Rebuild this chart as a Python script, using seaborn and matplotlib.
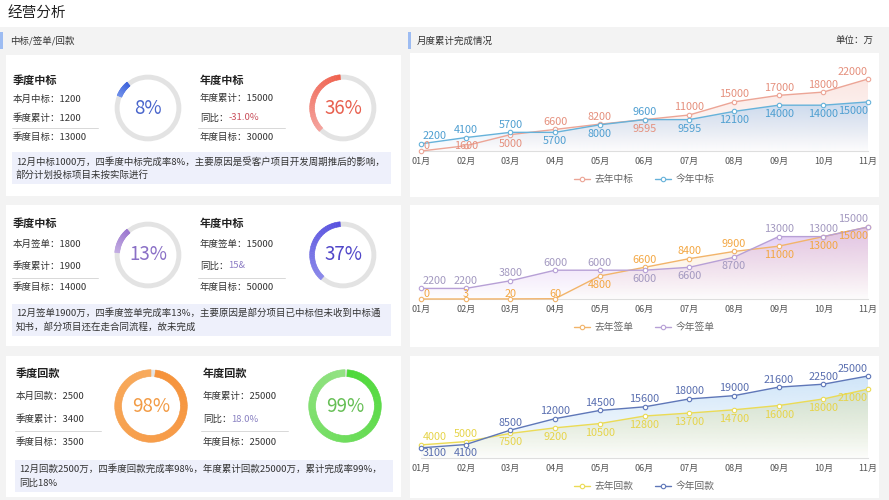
import numpy as np
import pandas as pd
import matplotlib
matplotlib.use('Agg')
import matplotlib.pyplot as plt
import seaborn as sns
from matplotlib.patches import Rectangle, Polygon
from matplotlib.colors import to_rgb

sns.set_theme(style='white')
plt.rcParams['font.family'] = ['Noto Sans CJK SC', 'DejaVu Sans']

W, H = 889, 500

# 数据
months = ['01月', '02月', '03月', '04月', '05月', '06月', '07月', '08月', '09月', '10月', '11月']
win_last = [0, 1600, 5000, 6600, 8200, 9595, 11000, 15000, 17000, 18000, 22000]
win_this = [2200, 4100, 5700, 5700, 8000, 9600, 9595, 12100, 14000, 14000, 15000]
sign_last = [0, 3, 20, 60, 4800, 6600, 8400, 9900, 11000, 13000, 15000]
sign_this = [2200, 2200, 3800, 6000, 6000, 6000, 6600, 8700, 13000, 13000, 15000]
pay_last = [4000, 5000, 7500, 9200, 10500, 12800, 13700, 14700, 16000, 18000, 21000]
pay_this = [3100, 4100, 8500, 12000, 14500, 15600, 18000, 19000, 21600, 22500, 25000]

donut_pct = [8, 36, 13, 37, 98, 99]

q_titles = ['季度中标', '季度中标', '季度回款']
q_rows = [['本月中标：1200', '季度累计：1200', '季度目标：13000'],
          ['本月签单：1800', '季度累计：1900', '季度目标：14000'],
          ['本月回款：2500', '季度累计：3400', '季度目标：3500']]
y_titles = ['年度中标', '年度中标', '年度回款']
y_rows = [['年度累计：15000', '年度目标：30000'],
          ['年度签单：15000', '年度目标：50000'],
          ['年度累计：25000', '年度目标：25000']]
yoy_values = ['-31.0%', '15&', '18.0%']
notes = [['12月中标1000万，四季度中标完成率8%，主要原因是受客户项目开发周期推后的影响，',
          '部分计划投标项目未按实际进行'],
         ['12月签单1900万，四季度签单完成率13%，主要原因是部分项目已中标但未收到中标通',
          '知书，部分项目还在走合同流程，故未完成'],
         ['12月回款2500万，四季度回款完成率98%，年度累计回款25000万，累计完成率99%，',
          '同比18%']]
legend_names = [['去年中标', '今年中标'], ['去年签单', '今年签单'], ['去年回款', '今年回款']]

# 样式
yoy_colors = ['#c9505c', '#8c7cc4', '#8a82c2']
arc_colors = [('#3d63dc', '#7090ea'), ('#f0604c', '#f5a29c'), ('#9a74cf', '#c2abe2'),
              ('#5750df', '#8a88ea'), ('#f8aa5c', '#f6923a'), ('#92e282', '#4ed93a')]
pct_colors = ['#4a66cc', '#e8604f', '#8a70c6', '#5147c9', '#f29b45', '#66bf55']
start_angles = [129, 95, 129, 95, 90, 90]
line_colors = [('#eca596', '#66b2da'), ('#f2b46a', '#b7a0d6'), ('#ebdb55', '#5f77b8')]
label_colors = [('#e5907d', '#4f9fd1'), ('#f3a743', '#a399c0'), ('#e6d44a', '#5a6fb0')]
fill_colors = [('#f6c8bf', '#a9cdf1'), ('#f9d7ae', '#cfa8ec'), ('#e6de70', '#a9d0f3')]
fill_alpha = [(0.45, 0.6), (0.45, 0.6), (0.5, 0.55)]

fig = plt.figure(figsize=(W / 100, H / 100), dpi=100)
fig.patch.set_facecolor('#f3f3f3')

bg = fig.add_axes([0, 0, 1, 1])
bg.set_xlim(0, W)
bg.set_ylim(H, 0)
bg.axis('off')


def rect(x0, y0, x1, y1, color, z=0):
    bg.add_patch(Rectangle((x0, y0), x1 - x0, y1 - y0, facecolor=color, edgecolor='none', zorder=z))


def txt(x, y, s, size=6.8, color='#333333', **kw):
    bg.text(x, y, s, fontsize=size, color=color, va='center', **kw)


# 标题区
rect(0, 0, W, 27, 'white')
txt(8, 13, '经营分析', size=10.5, color='#222222')
rect(0, 32, 2.5, 49, '#9dbcf2')
rect(408, 32, 410.5, 49, '#9dbcf2')
txt(10, 41, '中标/签单/回款')
txt(417, 41, '月度累计完成情况')
txt(873, 41, '单位：万', ha='right')

# 左侧卡片
cards = [(55, 196), (205, 346), (356, 497)]
title_y = [80, 223, 373]
row_y = [[99, 118, 137], [244, 266, 287], [396, 419, 442]]
sep_y = [128, 278, 431]
left_x = [13, 13, 16]
right_x = [200, 200, 203]
donut_c = [[(148, 108), (343, 108)], [(148, 255), (343, 255)], [(151, 406), (345, 406)]]
donut_r = [(34, 5), (34, 5), (37, 7)]
note_box = [(12, 391, 152, 184), (12, 391, 304, 336), (15, 393, 460, 492)]
note_y = [(162, 175), (313, 327), (469, 483)]

for k in range(3):
    rect(6, cards[k][0], 401, cards[k][1], 'white')
    rect(410, cards[k][0] - (2 if k == 0 else 0), 879, cards[k][1] + 1, 'white')

    lx, rx = left_x[k], right_x[k]
    txt(lx, title_y[k], q_titles[k], size=8, color='#222222', fontweight='bold')
    txt(rx, title_y[k], y_titles[k], size=8, color='#222222', fontweight='bold')
    txt(lx, row_y[k][0], q_rows[k][0])
    txt(lx, row_y[k][1], q_rows[k][1])
    txt(lx, row_y[k][2], q_rows[k][2])
    txt(rx, row_y[k][0], y_rows[k][0])
    txt(rx, row_y[k][1], '同比：')
    txt(rx + 3 * 6.8 * 100 / 72, row_y[k][1], yoy_values[k], color=yoy_colors[k])
    txt(rx, row_y[k][2], y_rows[k][1])
    bg.plot([lx - 1, lx + 85], [sep_y[k]] * 2, color='#d2d2d2', lw=0.6)
    bg.plot([rx - 2, rx + 85], [sep_y[k]] * 2, color='#d2d2d2', lw=0.6)

    x0, x1, y0, y1 = note_box[k]
    rect(x0, y0, x1, y1, '#eef0fb', z=1)
    txt(x0 + 4, note_y[k][0], notes[k][0], zorder=2)
    txt(x0 + 4, note_y[k][1], notes[k][1], zorder=2)

    # 环形进度
    r, wd = donut_r[k]
    for j in range(2):
        idx = k * 2 + j
        cx, cy = donut_c[k][j]
        ax_d = fig.add_axes([(cx - r) / W, 1 - (cy + r) / H, 2 * r / W, 2 * r / H])
        ax_d.pie([100], colors=['#e3e3e3'], radius=1, wedgeprops=dict(width=wd / r, linewidth=0))
        pct = donut_pct[idx]
        n = 30
        c0, c1 = np.array(to_rgb(arc_colors[idx][0])), np.array(to_rgb(arc_colors[idx][1]))
        seg_cols = [tuple(c0 + (c1 - c0) * t) for t in np.linspace(0, 1, n)]
        wedges, _ = ax_d.pie([pct / n] * n + [100 - pct], colors=seg_cols + ['none'],
                             radius=1, startangle=start_angles[idx], counterclock=True,
                             wedgeprops=dict(width=wd / r, linewidth=0.4))
        for wdg in wedges[:-1]:
            wdg.set_edgecolor(wdg.get_facecolor())
        wedges[-1].set_edgecolor('none')
        ax_d.text(0, 0, f'{pct}%', ha='center', va='center', fontsize=13.5, color=pct_colors[idx])
        ax_d.set_xlim(-1.02, 1.02)
        ax_d.set_ylim(-1.02, 1.02)
        ax_d.axis('off')

# 右侧折线图
series = [(win_last, win_this), (sign_last, sign_this), (pay_last, pay_this)]
base_px = [151, 299, 458]
ref_val = [22000, 15000, 25000]
ref_px = [79, 227, 376]
ymax = [25000, 17000, 27000]
legend_px = [179, 327, 486]
x_left, x_right = 421, 868
xs = np.arange(len(months))

for k in range(3):
    ppu = (base_px[k] - ref_px[k]) / ref_val[k]
    h_px = ymax[k] * ppu
    ax = fig.add_axes([x_left / W, 1 - base_px[k] / H, (x_right - x_left) / W, h_px / H])
    ax.patch.set_alpha(0)
    ax.set_xlim(0, len(months) - 1)
    ax.set_ylim(0, ymax[k])

    last, this = series[k]
    for s, vals in enumerate([last, this]):
        vals = np.array(vals, dtype=float)
        # 渐变填充
        rgb = np.array(to_rgb(fill_colors[k][s]))
        nrow = 200
        img = np.zeros((nrow, 1, 4))
        img[:, 0, :3] = rgb
        img[:, 0, 3] = np.linspace(fill_alpha[k][s], 0.02, nrow)
        poly = Polygon([(0, 0)] + list(zip(xs, vals)) + [(xs[-1], 0)], closed=True,
                       facecolor='none', edgecolor='none', transform=ax.transData)
        ax.add_patch(poly)
        im = ax.imshow(img, extent=[0, xs[-1], 0, vals.max()], aspect='auto',
                       origin='upper', zorder=1 + s, interpolation='bilinear')
        im.set_clip_path(poly)

        df = pd.DataFrame({'month': xs, 'value': vals})
        sns.lineplot(data=df, x='month', y='value', ax=ax, color=line_colors[k][s],
                     linewidth=1, marker='o', markersize=3.2, markerfacecolor='white',
                     markeredgecolor=line_colors[k][s], markeredgewidth=0.8,
                     label=legend_names[k][s], clip_on=False, zorder=3 + s)

    # 数据标签
    for i in range(len(months)):
        for s, vals in enumerate([last, this]):
            v, o = vals[i], [last, this][1 - s][i]
            above = v > o or (v == o and s == 1)
            if above:
                dy = 7.5
            else:
                dy = -9
                if v * ppu + dy < 5:
                    dy = 5 - v * ppu
            if i == 0:
                ha, dx = 'left', 2
            elif i == len(months) - 1:
                ha, dx = 'right', 0
            else:
                ha, dx = 'center', 0
            ax.annotate(f'{v}', (i, v), xytext=(dx * 0.72, dy * 0.72), textcoords='offset points',
                        ha=ha, va='center', fontsize=7.8, color=label_colors[k][s],
                        zorder=6, annotation_clip=False)

    sns.despine(ax=ax, left=True)
    ax.spines['bottom'].set_color('#dedede')
    ax.spines['bottom'].set_linewidth(0.8)
    ax.set_yticks([])
    ax.set_xticks(xs)
    ax.set_xticklabels(months, fontsize=6.5, color='#555555')
    ax.tick_params(axis='x', length=0, pad=4.5)
    ax.set_xlabel('')
    ax.set_ylabel('')
    ax.grid(False)
    leg_y = -(legend_px[k] - base_px[k]) / h_px
    ax.legend(loc='center', bbox_to_anchor=(0.5, leg_y), ncol=2, frameon=False,
              fontsize=7, handlelength=1.6, columnspacing=2.2, handletextpad=0.5,
              labelcolor='#666666')

fig.savefig('out.png', dpi=100, facecolor=fig.get_facecolor())
